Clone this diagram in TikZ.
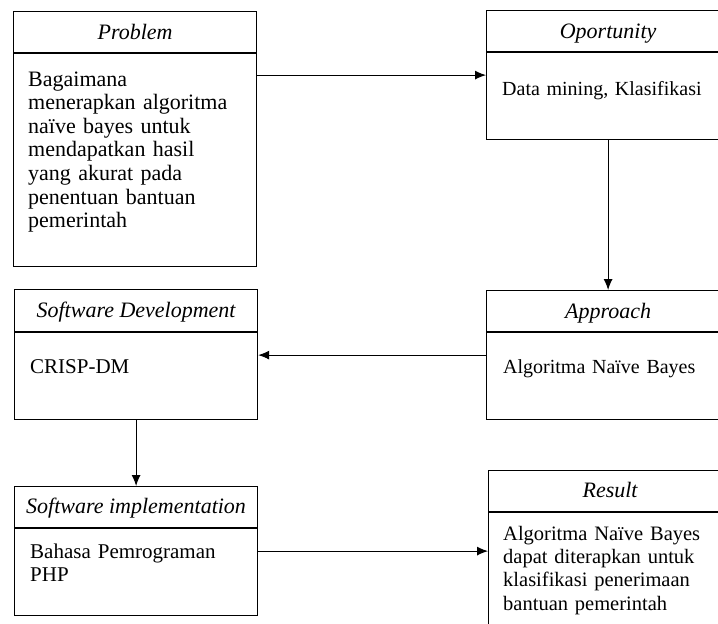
\documentclass[tikz,border=0pt]{standalone}
\usepackage{fontspec}
\setmainfont{Liberation Serif}
\usetikzlibrary{arrows.meta}

\tikzset{
  box/.style={draw,line width=1.2pt,minimum width=243pt,anchor=north west,inner sep=0pt},
  ttl/.style={font=\fontsize{22}{23.5}\selectfont\itshape,inner sep=0pt,text height=14pt,text depth=4pt},
  body/.style={font=\fontsize{21}{23.5}\selectfont,align=left,text width=225pt,anchor=base west,inner sep=0pt},
  arr/.style={line width=1pt,-{Latex[length=11pt,width=9pt]}},
}

\begin{document}
\begin{tikzpicture}[x=1pt,y=-1pt]
  \useasboundingbox (0,0) rectangle (718,624);
  \clip (0,0) rectangle (718,624);

  % boxes
  \node[box,minimum height=255pt] (prob) at (13,11) {};
  \node[box,minimum height=129pt] (opp) at (486,10) {};
  \node[box,minimum height=129pt] (appr) at (486,290) {};
  \node[box,minimum height=130pt] (dev) at (14,289) {};
  \node[box,minimum height=129pt] (impl) at (14,486) {};
  \node[box,minimum height=170pt] (res) at (488,470) {};

  % header lines
  \foreach \b/\h in {prob/42,opp/42,appr/42,dev/43,impl/42,res/42}
    \draw[line width=1.2pt] ([yshift=-\h pt]\b.north west) -- ([yshift=-\h pt]\b.north east);

  % titles
  \node[ttl] (probT) at ([yshift=-23pt]prob.north) {Problem};
  \node[ttl] (oppT) at ([yshift=-23pt]opp.north) {Oportunity};
  \node[ttl] (apprT) at ([yshift=-23pt]appr.north) {Approach};
  \node[ttl] (devT) at ([yshift=-23pt]dev.north) {Software Development};
  \node[ttl] (implT) at ([yshift=-22pt]impl.north) {Software implementation};
  \node[ttl] (resT) at ([yshift=-22pt]res.north) {Result};

  % texts
  \node[body,font=\fontsize{22}{23.6}\selectfont] (probB) at ([xshift=15pt,yshift=-75pt]prob.north west)
    {Bagaimana\\menerapkan algoritma\\naïve bayes untuk\\mendapatkan hasil\\yang akurat pada\\penentuan bantuan\\pemerintah};
  \node[body,font=\fontsize{20}{23.5}\selectfont] (oppB) at ([xshift=16pt,yshift=-85pt]opp.north west) {Data mining, Klasifikasi};
  \node[body,font=\fontsize{20}{23.5}\selectfont] (apprB) at ([xshift=17pt,yshift=-83pt]appr.north west) {Algoritma Naïve Bayes};
  \node[body] (devB) at ([xshift=16pt,yshift=-84pt]dev.north west) {CRISP-DM};
  \node[body] (implB) at ([xshift=16pt,yshift=-72pt]impl.north west) {Bahasa Pemrograman\\PHP};
  \node[body,font=\fontsize{20.5}{23.4}\selectfont] (resB) at ([xshift=15pt,yshift=-70pt]res.north west)
    {Algoritma Naïve Bayes\\dapat diterapkan untuk\\klasifikasi penerimaan\\bantuan pemerintah};

  % arrows
  \draw[arr] (opp.west -| prob.east) -- (opp.west);
  \draw[arr] (opp.south) -- (appr.north);
  \draw[arr] (appr.west) -- (appr.west -| dev.east);
  \draw[arr] (dev.south) -- (impl.north);
  \draw[arr] (impl.east) -- (impl.east -| res.west);
\end{tikzpicture}
\end{document}
